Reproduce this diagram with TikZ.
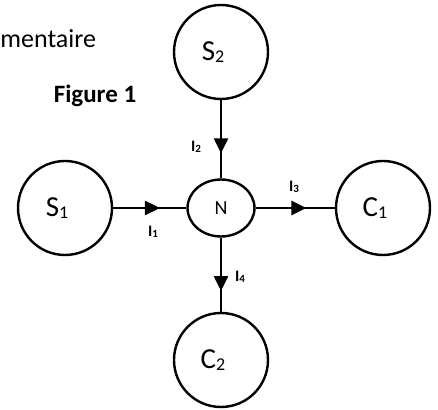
\documentclass[tikz,border=0pt]{standalone}
\usepackage{fontspec}
\setmainfont{Carlito}
\usetikzlibrary{arrows.meta,decorations.markings,shapes.geometric}
\newcommand{\lowidx}[2]{\raisebox{-0.2ex}{\fontsize{#1}{#1}\selectfont #2}}

\begin{document}
\begin{tikzpicture}[
    x=0.5pt, y=-0.5pt,
    vessel/.style={circle, draw, line width=1.2pt, minimum size=47pt, inner sep=0pt,
        label={[xshift=-4pt, font=\fontsize{14.5}{16}\selectfont]center:#1}},
    junction/.style={ellipse, draw, line width=1.2pt, minimum width=33.5pt, minimum height=28.5pt,
        inner sep=0pt, font=\fontsize{10}{12}\selectfont},
    current/.style={font=\bfseries\fontsize{8}{9}\selectfont, inner sep=0pt},
    flow/.style={line width=1.2pt, decoration={markings,
        mark=at position #1 with {\arrow{Triangle[length=7.5pt, width=7pt]}}}, postaction={decorate}}
]
    \useasboundingbox (0,0) rectangle (438,410);

    % captions
    \node[anchor=base west, inner sep=0pt, font=\fontsize{13}{15}\selectfont] (title) at (0,48) {mentaire};
    \node[font=\bfseries\fontsize{12.5}{15}\selectfont, inner sep=0pt] (fig) at (95,96) {Figure 1};

    % node N and the four branches
    \node[junction] (N) at (221,208) {N};
    \node[vessel={S\lowidx{9}{2}}] (S2) at (221,52) {};
    \node[vessel={S\lowidx{9}{1}}] (S1) at (65,208) {};
    \node[vessel={C\lowidx{9}{1}}] (C1) at (383,208) {};
    \node[vessel={C\lowidx{9}{2}}] (C2) at (221,360) {};

    \draw[flow=0.64] (S1) -- (N);
    \draw[flow=0.68] (S2) -- (N);
    \draw[flow=0.64] (N) -- (C1);
    \draw[flow=0.72] (N) -- (C2);

    % currents
    \node[current] (I1) at (153,232) {I\lowidx{5.5}{1}};
    \node[current] (I2) at (196,147) {I\lowidx{5.5}{2}};
    \node[current] (I3) at (294,187) {I\lowidx{5.5}{3}};
    \node[current] (I4) at (240,277) {I\lowidx{5.5}{4}};
\end{tikzpicture}
\end{document}
